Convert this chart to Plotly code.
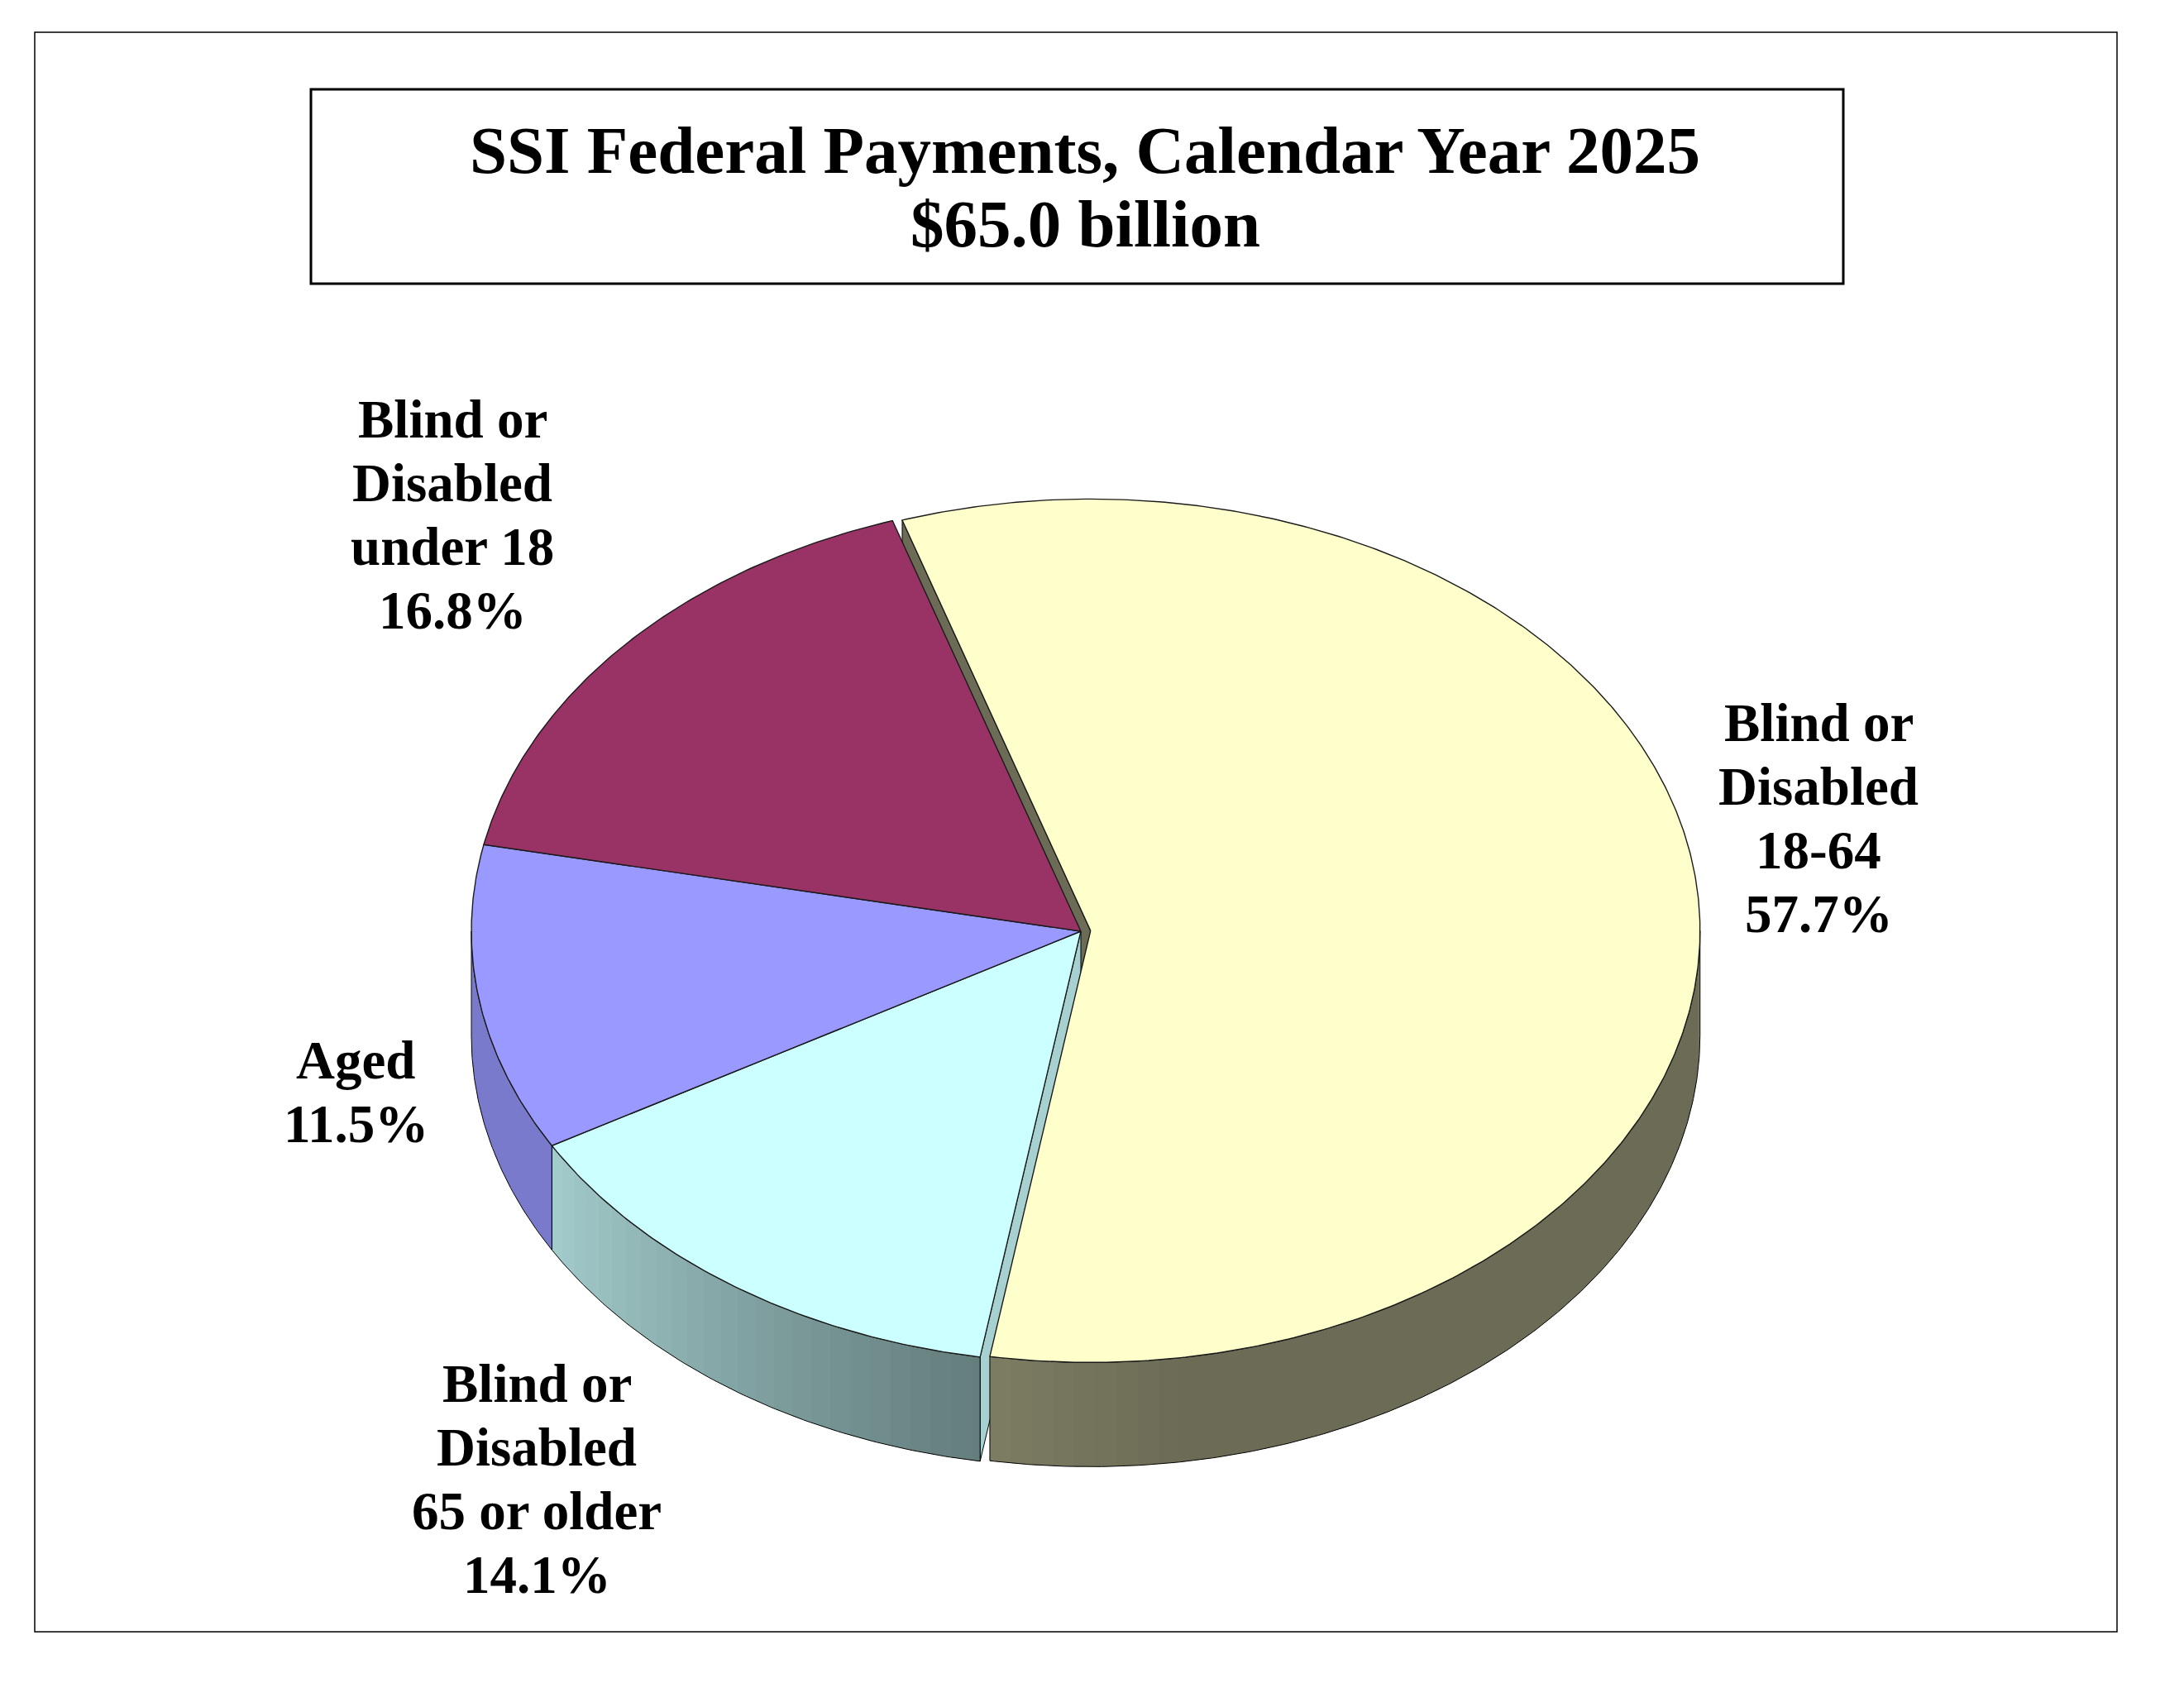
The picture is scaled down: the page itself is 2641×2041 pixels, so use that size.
import numpy as np
import plotly.graph_objects as go

# values (slices go clockwise from the top)
groups = ["Blind or Disabled 18-64", "Blind or Disabled 65 or older", "Aged", "Blind or Disabled under 18"]
label_lines = [["Blind or", "Disabled", "18-64"],
               ["Blind or", "Disabled", "65 or older"],
               ["Aged"],
               ["Blind or", "Disabled", "under 18"]]
shares = [57.7, 14.1, 11.5, 16.8]
title_lines = ["SSI Federal Payments, Calendar Year 2025", "$65.0 billion"]

# styling / layout
top_colors = [(255, 255, 204), (204, 255, 255), (153, 153, 255), (153, 51, 102)]
pull = [0.016, 0, 0, 0]
label_x = [2199, 649, 430, 547]
label_y0 = [896, 1695, 1304, 529]  # baseline of the first line of each label
label_gap = 77
label_size = 65
title_size = 81

W, H = 2641, 2041
PAD = 8                  # default body margin of the html page
cx, cy = 1307, 1126      # centre of the top face
rx, ry = 737, 522        # radii of the tilted pie
depth = 126              # thickness of the pie
start_angle = 108        # where the first slice starts (degrees, ccw from east)
FONT = "Liberation Serif"


def rgb(c, f=1.0):
    return "rgb(%d,%d,%d)" % tuple(min(255, int(round(v * f))) for v in c)


def shade(theta):
    # front walls get darker towards the right
    return float(np.interp(theta, [-180, -150, -100, -80, 0], [0.80, 0.80, 0.49, 0.42, 0.42]))


def arc(t1, t2, off, drop=0.0):
    n = max(2, int(abs(t2 - t1) / 0.5) + 1)
    t = np.radians(np.linspace(t1, t2, n))
    return cx + off[0] + rx * np.cos(t), cy + off[1] - ry * np.sin(t) + drop


def polygon(xs, ys, fill, line_color="black", line_width=0.0):
    fig.add_trace(go.Scatter(
        x=list(xs), y=list(ys), mode="lines", fill="toself", fillcolor=fill,
        line=dict(color=line_color, width=line_width), hoverinfo="skip"))


# angular span of every slice
total = sum(shares)
spans = []
hi = start_angle
for v in shares:
    lo = hi - v / total * 360
    spans.append((hi, lo))
    hi = lo

offsets = []
for (hi, lo), p in zip(spans, pull):
    mid = np.radians((hi + lo) / 2)
    offsets.append((p * rx * np.cos(mid), -p * ry * np.sin(mid)))

fig = go.Figure()
n = len(shares)

# radial faces that show through the gap of the pulled slice
for i, ((hi, lo), off) in enumerate(zip(spans, offsets)):
    for edge, nb, normal in ((hi, (i - 1) % n, hi + 90), (lo, (i + 1) % n, lo - 90)):
        if pull[i] == 0 and pull[nb] == 0:
            continue
        if np.sin(np.radians(normal)) >= 0:
            continue
        t = np.radians(edge)
        ex, ey = cx + off[0] + rx * np.cos(t), cy + off[1] - ry * np.sin(t)
        ox, oy = cx + off[0], cy + off[1]
        f = 0.42 if np.cos(np.radians(normal)) < 0 else 0.82
        polygon([ox, ex, ex, ox, ox], [oy, ey, ey + depth, oy + depth, oy],
                rgb(top_colors[i], f), "black", 1)

# outer walls on the front half
for i, ((hi, lo), off) in enumerate(zip(spans, offsets)):
    for k in (-1, 0, 1):
        a, b = max(lo, -180 + 360 * k), min(hi, 360 * k)
        if b <= a:
            continue
        edges = list(np.arange(a, b, 2.0)) + [b]
        for t1, t2 in zip(edges[:-1], edges[1:]):
            t2e = min(t2 + 0.5, b)
            tx, ty = arc(t1, t2e, off)
            bx, by = arc(t2e, t1, off, depth)
            polygon(np.r_[tx, bx, tx[:1]], np.r_[ty, by, ty[:1]],
                    rgb(top_colors[i], shade((t1 + t2) / 2 - 360 * k)))
        tx, ty = arc(a, b, off)
        bx, by = arc(b, a, off, depth)
        fig.add_trace(go.Scatter(x=np.r_[tx, bx, tx[:1]], y=np.r_[ty, by, ty[:1]], mode="lines",
                                 line=dict(color="black", width=1), hoverinfo="skip"))

# top faces
for i, ((hi, lo), off) in enumerate(zip(spans, offsets)):
    tx, ty = arc(hi, lo, off)
    ox, oy = cx + off[0], cy + off[1]
    polygon(np.r_[ox, tx, ox], np.r_[oy, ty, oy], rgb(top_colors[i]), "#1a1a1a", 1.4)


def add_lines(lines, x, y0, size, gap):
    for j, txt in enumerate(lines):
        fig.add_annotation(
            x=x, y=y0 + j * gap - 0.34 * size, xref="x", yref="y",
            text="<b>%s</b>" % txt, showarrow=False,
            xanchor="center", yanchor="middle",
            font=dict(family=FONT, size=size, color="black"))


for i in range(n):
    lines = label_lines[i] + ["%.1f%%" % shares[i]]
    add_lines(lines, label_x[i], label_y0[i], label_size, label_gap)

add_lines(title_lines, 1312, 210, title_size, 89)

# frame and title box
fig.add_shape(type="rect", x0=42, y0=39, x1=2560, y1=1973, xref="x", yref="y",
              line=dict(color="black", width=1.5), layer="below")
fig.add_shape(type="rect", x0=376, y0=108, x1=2229, y1=343, xref="x", yref="y",
              line=dict(color="black", width=3), layer="below")

# the page puts the figure PAD pixels in from the corner, so the axes run in
# window pixels from PAD to size - PAD
fig.update_layout(
    width=W - 2 * PAD, height=H - 2 * PAD,
    margin=dict(l=0, r=0, t=0, b=0),
    showlegend=False,
    paper_bgcolor="white",
    plot_bgcolor="white",
)
fig.update_xaxes(range=[PAD, W - PAD], visible=False, fixedrange=True)
fig.update_yaxes(range=[H - PAD, PAD], visible=False, fixedrange=True)

fig.write_html("out.html", config={"displayModeBar": False})
